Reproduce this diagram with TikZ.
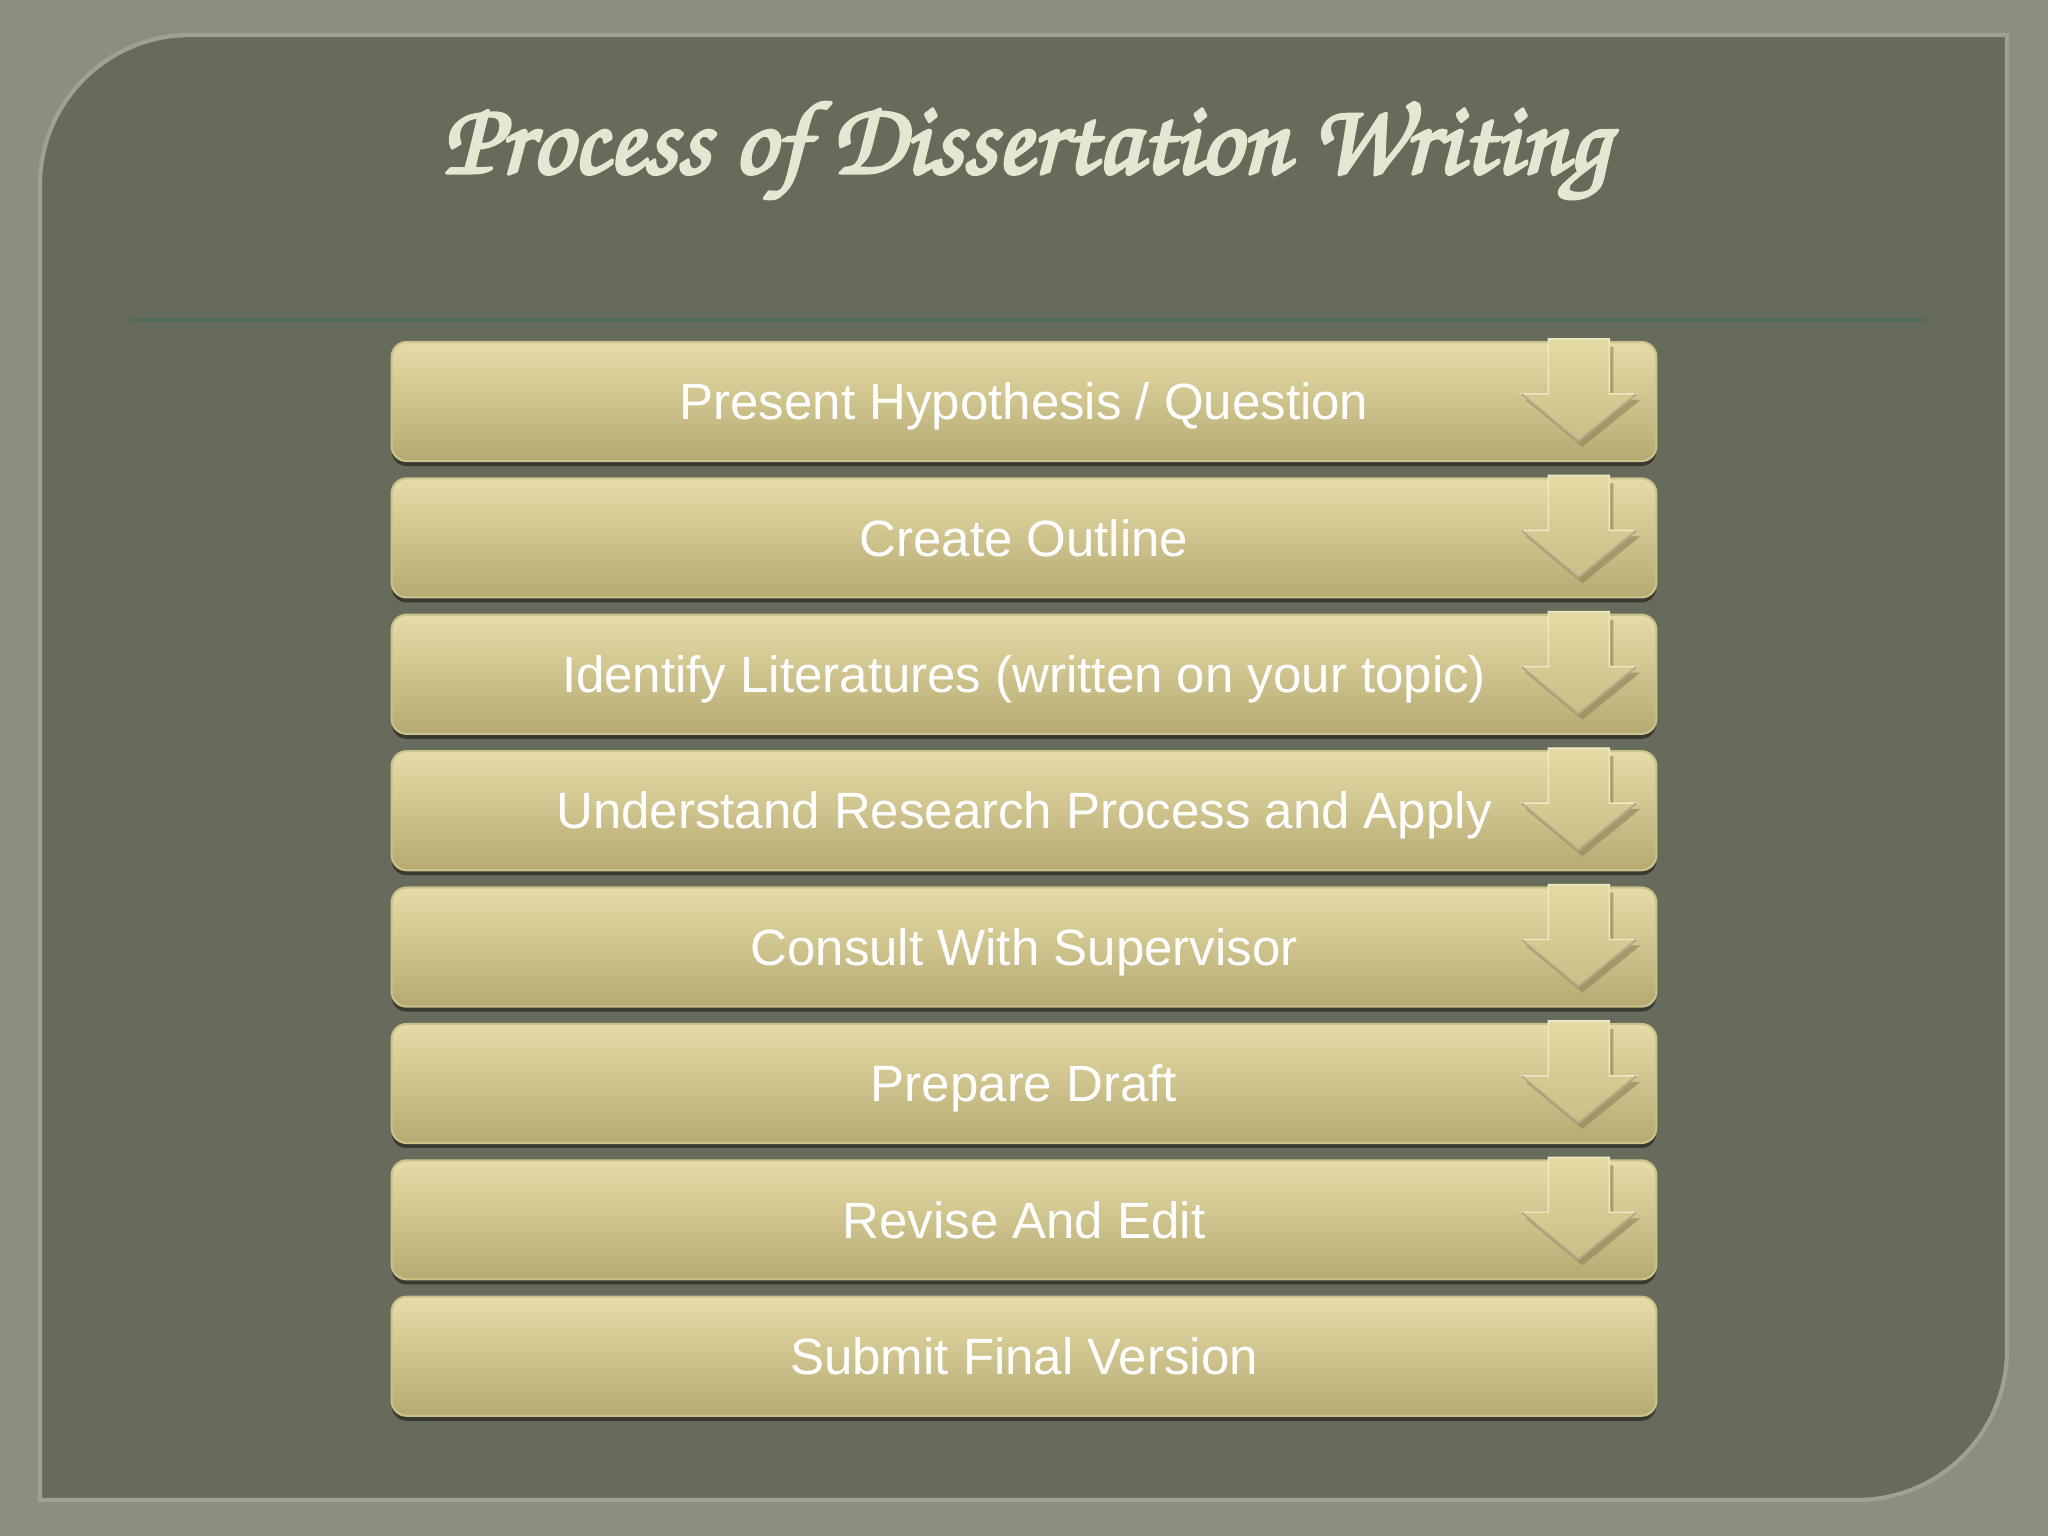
\documentclass[tikz,border=0pt]{standalone}
\usepackage[T1]{fontenc}
\usepackage{fontspec}
\setmainfont{Liberation Sans}
\usetikzlibrary{positioning}
\usetikzlibrary{shadows}
\definecolor{framecol}{HTML}{8A8F80}
\definecolor{panelcol}{HTML}{666B5B}
\definecolor{edgecol}{HTML}{9DA392}
\definecolor{rulecol}{HTML}{4E6B5C}
\definecolor{boxtop}{HTML}{E6DCA7}
\definecolor{boxbot}{HTML}{B5AA72}
\definecolor{boxedge}{HTML}{CBC18A}
\definecolor{arrtop}{HTML}{E4DAA3}
\definecolor{arrbot}{HTML}{C9BE85}
\definecolor{arrdark}{HTML}{8C8255}
\definecolor{titlecol}{HTML}{E4E8D3}
\newcommand{\titlefont}{\fontencoding{T1}\fontfamily{pzc}\fontseries{mb}\fontshape{it}\fontsize{29.7}{34}\selectfont}
\newcommand{\heavytext}[1]{\special{pdf:literal direct 1 j 0.9 w 2 Tr}#1\special{pdf:literal direct 0 Tr}}
\tikzset{
  stage/.style={rectangle, rounded corners=0.15cm, minimum width=12.64cm,
    minimum height=1.19cm, top color=boxtop, bottom color=boxbot,
    draw=boxedge, line width=0.6pt, text=white,
    text height=12pt, text depth=1.6pt,
    font=\fontsize{14.5}{17}\selectfont,
    drop shadow={shadow xshift=0pt, shadow yshift=-0.05cm, opacity=0.45, fill=black}},
  downarrow/.style={top color=arrtop, bottom color=arrbot, draw=arrtop!60!white, line width=0.4pt},
  titletext/.style={text=titlecol, font=\titlefont}
}

\begin{document}
\begin{tikzpicture}[x=0.01cm, y=-0.01cm]

% Frame
\useasboundingbox (0,0) rectangle (2048,1536);
\fill[framecol] (0,0) rectangle (2048,1536);

% Panel
\filldraw[panelcol, draw=edgecol, line width=1.2pt]
  (40,185) arc[start angle=180, end angle=270, radius=150] -- (2007,35)
  -- (2007,1350) arc[start angle=0, end angle=90, radius=150] -- (40,1500) -- cycle;

% Title
\node[titletext] (title) at (1026,152) {\heavytext{Process of Dissertation Writing}};

% Rule under title
\coordinate (ruleL) at (131,320);
\coordinate (ruleR) at (1924,320);
\draw[rulecol, line width=1pt] (ruleL) -- (ruleR);

% Steps
\node[stage] (s1) at (1024,401.5) {Present Hypothesis / Question};
\node[stage, below=0.152cm of s1] (s2) {Create Outline};
\node[stage, below=0.152cm of s2] (s3) {Identify Literatures (written on your topic)};
\node[stage, below=0.152cm of s3] (s4) {Understand Research Process and Apply};
\node[stage, below=0.152cm of s4] (s5) {Consult With Supervisor};
\node[stage, below=0.152cm of s5] (s6) {Prepare Draft};
\node[stage, below=0.152cm of s6] (s7) {Revise And Edit};
\node[stage, below=0.152cm of s7] (s8) {Submit Final Version};

% Down arrows on the boxes
\foreach \n in {1,...,7}{
  \begin{scope}[shift={(s\n.north east)}]
    \fill[arrdark, opacity=0.6] (-105,6) -- (-44,6) -- (-44,59) -- (-17,59)
      -- (-75,106) -- (-132,59) -- (-105,59) -- cycle;
    \filldraw[downarrow] (-109,-2) -- (-48,-2) -- (-48,53) -- (-21,53)
      -- (-79,100) -- (-136,53) -- (-109,53) -- cycle;
    \draw[arrdark!70, line width=0.5pt] (-136,53) -- (-79,100) -- (-21,53);
  \end{scope}
}

\end{tikzpicture}
\end{document}
